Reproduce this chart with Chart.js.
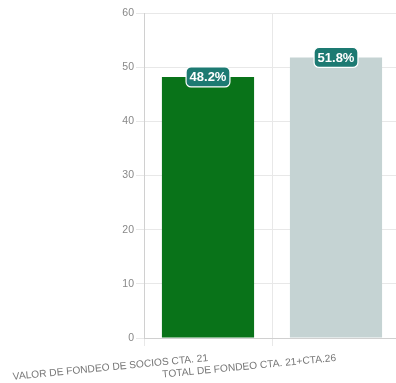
<!DOCTYPE html>
<html>
<head>
<meta charset="utf-8">
<script src="https://cdn.jsdelivr.net/npm/chart.js@4/dist/chart.umd.min.js"></script>
<style>
html,body{margin:0;padding:0;background:#fff;overflow:hidden;}
#wrap{width:400px;height:383px;position:relative;}
</style>
</head>
<body>
<div id="wrap"><canvas id="c"></canvas></div>
<script>
const categories = ["VALOR DE FONDEO DE SOCIOS CTA. 21", "TOTAL DE FONDEO CTA. 21+CTA.26"];
const values = [48.2, 51.8];
const labelsText = ["48.2%", "51.8%"];
const barColors = ["#097319", "#c5d3d3"];
const yTicks = [0, 10, 20, 30, 40, 50, 60];

const valueLabels = {
  id: 'valueLabels',
  afterDatasetsDraw(chart) {
    const ctx = chart.ctx;
    const meta = chart.getDatasetMeta(0);
    ctx.save();
    ctx.font = "bold 13px 'Liberation Sans', Arial, sans-serif";
    ctx.textAlign = 'center';
    ctx.textBaseline = 'middle';
    meta.data.forEach((bar, i) => {
      const t = labelsText[i];
      const w = ctx.measureText(t).width + 7;
      const h = 20;
      const x = bar.x - w / 2, y = bar.y - h / 2;
      ctx.beginPath();
      ctx.roundRect(x, y, w, h, 5);
      ctx.fillStyle = '#1d7a72';
      ctx.fill();
      ctx.lineWidth = 1.2;
      ctx.strokeStyle = '#ffffff';
      ctx.stroke();
      ctx.fillStyle = '#ffffff';
      ctx.fillText(t, bar.x, bar.y + 1);
    });
    ctx.restore();
  }
};

new Chart(document.getElementById('c'), {
  type: 'bar',
  data: {
    labels: categories,
    datasets: [{
      data: values,
      backgroundColor: barColors,
      borderWidth: 0
    }]
  },
  options: {
    responsive: true,
    maintainAspectRatio: false,
    animation: false,
    layout: { padding: { top: 13, right: 0, left: 0, bottom: 0 } },
    plugins: { legend: { display: false }, tooltip: { enabled: false } },
    scales: {
      x: {
        ticks: { color: '#777', font: { size: 10.2 }, minRotation: 5.5, maxRotation: 5.5, padding: 6, autoSkip: false },
        grid: { color: '#e8e8e8' },
        afterFit(axis) { axis.height = 45; axis.paddingLeft = 0; axis.paddingRight = 0; }
      },
      y: {
        min: 0, max: 60,
        afterBuildTicks(axis) { axis.ticks = yTicks.map(v => ({ value: v })); },
        ticks: { color: '#888', font: { size: 10.5 }, padding: 2 },
        grid: { color: '#e8e8e8' },
        afterFit(axis) { axis.width = 144; axis.paddingTop = 0; axis.paddingBottom = 0; }
      }
    }
  },
  plugins: [valueLabels]
});
</script>
</body>
</html>
